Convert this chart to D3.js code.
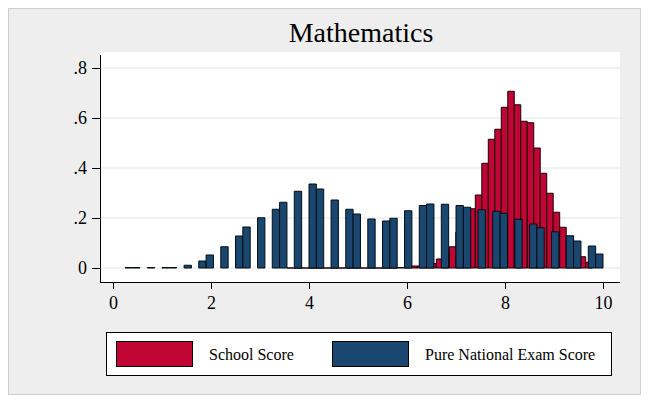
<!DOCTYPE html>
<html>
<head>
<meta charset="utf-8">
<script src="https://cdn.jsdelivr.net/npm/d3@7"></script>
<style>
  body { margin: 0; background: #fff; }
  svg { display: block; font-family: "Liberation Serif", "Times New Roman", serif; }
</style>
</head>
<body>
<div class="bigvis"></div>
<script>
// School score histogram: start, bin width, density per bin
var schoolStart = 3.5515
var schoolWidth = 0.1325
var schoolDensity = [
  0, 0, 0, 0, 0, 0, 0, 0, 0, 0,
  0, 0, 0, 0, 0, 0, 0, 0.002, 0.002, 0.008,
  0.008, 0.012, 0.018, 0.036, 0.06, 0.085, 0.144, 0.19, 0.237, 0.292,
  0.419, 0.515, 0.555, 0.643, 0.707, 0.653, 0.587, 0.581, 0.48, 0.379,
  0.299, 0.223, 0.163, 0.119, 0.075, 0.045, 0.023
]

// national exam score: discrete values in steps of .25, binned at width .15 from .25
var examStart = 0.25
var examWidth = 0.15
var examBins = 65
var examScores = d3.range(1, 41).map(function(k){ return k * 0.25 })
var examDensity = [
  0.002, 0.002, 0.002, 0.002, 0.002, 0.011, 0.028, 0.052, 0.085, 0.128,
  0.164, 0.201, 0.235, 0.263, 0.307, 0.336, 0.316, 0.272, 0.235, 0.216,
  0.196, 0.188, 0.199, 0.229, 0.25, 0.256, 0.255, 0.25, 0.243, 0.233,
  0.227, 0.219, 0.195, 0.176, 0.161, 0.145, 0.129, 0.108, 0.088, 0.056
]

var yTicks = [0, 0.2, 0.4, 0.6, 0.8]
var xTicks = [0, 2, 4, 6, 8, 10]
var seriesNames = ["School Score", "Pure National Exam Score"]
var seriesColors = ["#c10534", "#1a476f"]

var W = 649, H = 402
var plot = {left: 100, right: 620, top: 52, bottom: 282}

var svg = d3.select(".bigvis").append("svg")
    .attr("width", W)
    .attr("height", H)

svg.append("rect")
    .attr("x", 8.5).attr("y", 8.5)
    .attr("width", 632).attr("height", 386)
    .attr("fill", "#eeeeee")
    .attr("stroke", "#cfcfcf")

svg.append("rect")
    .attr("x", plot.left).attr("y", plot.top)
    .attr("width", plot.right - plot.left).attr("height", plot.bottom - plot.top)
    .attr("fill", "#fff")

var x = d3.scaleLinear().domain([0, 10]).range([113, 603])
var y = d3.scaleLinear().domain([0, 0.8]).range([268, 68])

// grid
svg.append("g").selectAll("line")
    .data(yTicks)
  .enter().append("line")
    .attr("x1", plot.left).attr("x2", plot.right)
    .attr("y1", function(d){ return y(d) }).attr("y2", function(d){ return y(d) })
    .attr("stroke", "#e6e6e6")
    .attr("stroke-width", 1.2)

function barPath(x0, x1, v){
  var a = x(x0), b = x(x1), t = y(v), z = y(0)
  return "M" + a + "," + z + "V" + t + "H" + b + "V" + z + "Z"
}

// school score bars (behind)
svg.append("g").selectAll("path")
    .data(schoolDensity)
  .enter().append("path")
    .attr("d", function(d, i){
      var x0 = schoolStart + i * schoolWidth
      return barPath(x0, x0 + schoolWidth, d)
    })
    .attr("fill", seriesColors[0])
    .attr("stroke", "#1a0008")
    .attr("stroke-width", 1)

// exam score bars
function examBin(v){
  return Math.min(examBins - 1, Math.floor((v - examStart) / examWidth + 1e-6))
}
svg.append("g").selectAll("path")
    .data(examScores)
  .enter().append("path")
    .attr("d", function(d, i){
      var x0 = examStart + examBin(d) * examWidth
      return barPath(x0, x0 + examWidth, examDensity[i])
    })
    .attr("fill", seriesColors[1])
    .attr("stroke", "#050d14")
    .attr("stroke-width", 1)

// y axis
var yAxis = svg.append("g")
    .attr("transform", "translate(" + plot.left + ",0)")
    .call(d3.axisLeft(y).tickValues(yTicks).tickSize(8).tickPadding(5)
      .tickFormat(function(d){ return d == 0 ? "0" : d3.format(".1f")(d).replace(/^0/, "") }))
yAxis.select(".domain").remove()
yAxis.selectAll(".tick text").attr("font-size", 18).attr("fill", "#000").attr("font-family", "Liberation Serif")
yAxis.selectAll(".tick line").attr("stroke", "#000")
svg.append("line")
    .attr("x1", plot.left + 0.5).attr("x2", plot.left + 0.5)
    .attr("y1", plot.top + 3).attr("y2", plot.bottom)
    .attr("stroke", "#000")

// x axis
var xAxis = svg.append("g")
    .attr("transform", "translate(0," + plot.bottom + ")")
    .call(d3.axisBottom(x).tickValues(xTicks).tickSize(7).tickPadding(7))
xAxis.select(".domain").remove()
xAxis.selectAll(".tick text").attr("font-size", 18).attr("fill", "#000").attr("font-family", "Liberation Serif")
xAxis.selectAll(".tick line").attr("stroke", "#000")
svg.append("line")
    .attr("x1", plot.left).attr("x2", plot.right)
    .attr("y1", plot.bottom + 0.5).attr("y2", plot.bottom + 0.5)
    .attr("stroke", "#000")

// title
svg.append("text")
    .attr("x", 361).attr("y", 42)
    .attr("text-anchor", "middle")
    .attr("font-size", 28)
    .text("Mathematics")

// legend
var legend = svg.append("g")
legend.append("rect")
    .attr("x", 106.5).attr("y", 332.5)
    .attr("width", 505).attr("height", 43)
    .attr("fill", "#fff").attr("stroke", "#000")
var legX = [116, 332]
seriesNames.forEach(function(name, i){
  legend.append("rect")
      .attr("x", legX[i] + 0.5).attr("y", 341.5)
      .attr("width", 76).attr("height", 25)
      .attr("fill", seriesColors[i]).attr("stroke", "#000")
  legend.append("text")
      .attr("x", legX[i] + 93).attr("y", 360)
      .attr("font-size", 16)
      .text(name)
})
</script>
</body>
</html>
